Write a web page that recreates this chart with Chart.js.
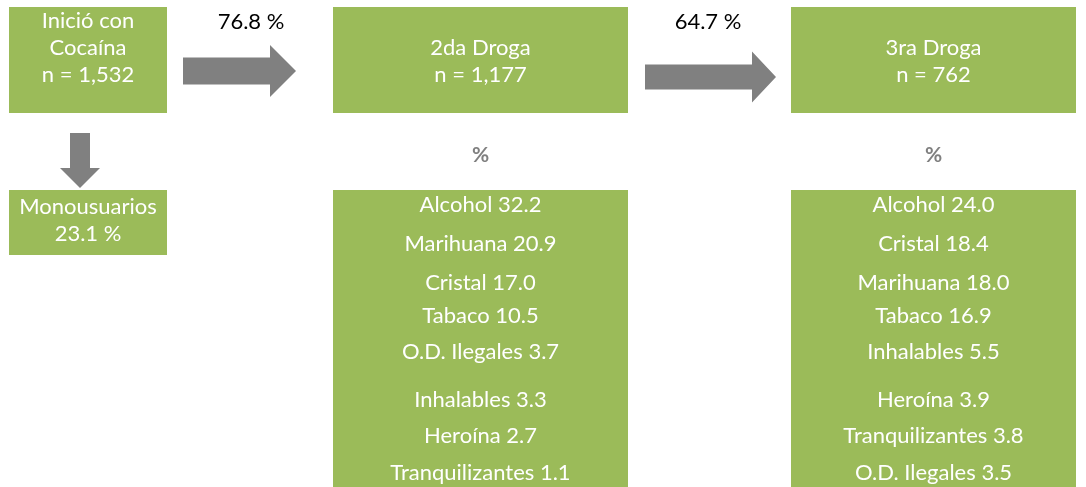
<!DOCTYPE html>
<html>
<head>
<meta charset="utf-8">
<script src="https://cdn.jsdelivr.net/npm/chart.js@4"></script>
<style>
  html, body { margin: 0; padding: 0; background: #fff; }
  #wrap { width: 1086px; height: 487px; position: relative; }
</style>
</head>
<body>
<div id="wrap"><canvas id="flow"></canvas></div>
<script>
// stages of the drug sequence
var stages = ["Inició con\nCocaína", "2da Droga", "3ra Droga"];
var stageN = [1532, 1177, 762];
var transitionPct = [76.8, 64.7];
var monoLabel = "Monousuarios";
var monoPct = 23.1;

// second drug used (%)
var drugs2 = ["Alcohol", "Marihuana", "Cristal", "Tabaco", "O.D. Ilegales", "Inhalables", "Heroína", "Tranquilizantes"];
var values2 = [32.2, 20.9, 17.0, 10.5, 3.7, 3.3, 2.7, 1.1];

// third drug used (%)
var drugs3 = ["Alcohol", "Cristal", "Marihuana", "Tabaco", "Inhalables", "Heroína", "Tranquilizantes", "O.D. Ilegales"];
var values3 = [24.0, 18.4, 18.0, 16.9, 5.5, 3.9, 3.8, 3.5];

var green = "#9bbb59";
var grey = "#808080";
var font = "Lato, 'Open Sans', sans-serif";

// layout in scale units (x 0..1086, y 0..487 top-down)
var cols = [{x0: 9, x1: 167}, {x0: 333, x1: 628}, {x0: 791, x1: 1076}];
var topBox = {y0: 7, y1: 113};
var listBox = {y0: 190, y1: 487};
var listRows = [205, 244, 283, 316, 352, 400, 436, 473];

function fmtN(n) {
  return "n = " + n.toLocaleString("en-US");
}

var flowPlugin = {
  id: "flow",
  afterDraw: function(chart) {
    var ctx = chart.ctx;
    var sx = chart.scales.x, sy = chart.scales.y;
    var X = function(v){ return sx.getPixelForValue(v); };
    var Y = function(v){ return sy.getPixelForValue(v); };

    function rect(x0, y0, x1, y1) {
      ctx.fillStyle = green;
      ctx.fillRect(X(x0), Y(y0), X(x1) - X(x0), Y(y1) - Y(y0));
    }
    function text(t, x, y, color, size, weight) {
      ctx.fillStyle = color;
      ctx.font = (weight || "normal") + " " + size + "px " + font;
      ctx.textAlign = "center";
      ctx.textBaseline = "middle";
      ctx.fillText(t, X(x), Y(y));
    }
    function arrowRight(x0, x1, yc, shaftH, headH, headW) {
      ctx.fillStyle = grey;
      ctx.beginPath();
      ctx.moveTo(X(x0), Y(yc - shaftH / 2));
      ctx.lineTo(X(x1 - headW), Y(yc - shaftH / 2));
      ctx.lineTo(X(x1 - headW), Y(yc - headH / 2));
      ctx.lineTo(X(x1), Y(yc));
      ctx.lineTo(X(x1 - headW), Y(yc + headH / 2));
      ctx.lineTo(X(x1 - headW), Y(yc + shaftH / 2));
      ctx.lineTo(X(x0), Y(yc + shaftH / 2));
      ctx.closePath();
      ctx.fill();
    }
    function arrowDown(xc, y0, y1, shaftW, headW, headH) {
      ctx.fillStyle = grey;
      ctx.beginPath();
      ctx.moveTo(X(xc - shaftW / 2), Y(y0));
      ctx.lineTo(X(xc + shaftW / 2), Y(y0));
      ctx.lineTo(X(xc + shaftW / 2), Y(y1 - headH));
      ctx.lineTo(X(xc + headW / 2), Y(y1 - headH));
      ctx.lineTo(X(xc), Y(y1));
      ctx.lineTo(X(xc - headW / 2), Y(y1 - headH));
      ctx.lineTo(X(xc - shaftW / 2), Y(y1 - headH));
      ctx.closePath();
      ctx.fill();
    }

    ctx.save();
    // top boxes
    stages.forEach(function(s, i) {
      var c = cols[i];
      var cx = (c.x0 + c.x1) / 2;
      rect(c.x0, topBox.y0, c.x1, topBox.y1);
      var lines = s.split("\n").concat([fmtN(stageN[i])]);
      var y = lines.length === 3 ? 21 : 48;
      lines.forEach(function(l, k) {
        text(l, cx, y + k * 27, "#fff", 22);
      });
    });

    // arrows with transition percentages
    arrowRight(183, 296, 71, 27, 52, 26);
    text(transitionPct[0].toFixed(1) + " %", 251, 22, "#000", 22);
    arrowRight(645, 776, 77, 25, 51, 24);
    text(transitionPct[1].toFixed(1) + " %", 708, 22, "#000", 22);

    // monousers
    arrowDown(80, 133, 188, 20, 40, 20);
    rect(cols[0].x0, 190, cols[0].x1, 255);
    text(monoLabel, 88, 207, "#fff", 22);
    text(monoPct.toFixed(1) + " %", 88, 234, "#fff", 22);

    // drug lists
    [[drugs2, values2], [drugs3, values3]].forEach(function(d, j) {
      var c = cols[j + 1];
      var cx = (c.x0 + c.x1) / 2;
      text("%", cx, 155, grey, 21, "bold");
      rect(c.x0, listBox.y0, c.x1, listBox.y1);
      d[0].forEach(function(name, k) {
        text(name + " " + d[1][k].toFixed(1), cx, listRows[k], "#fff", 22);
      });
    });
    ctx.restore();
  }
};

var chart = new Chart(document.getElementById("flow"), {
  type: "scatter",
  data: { datasets: [{ data: [] }] },
  options: {
    responsive: true,
    maintainAspectRatio: false,
    animation: false,
    layout: { padding: 0 },
    plugins: { legend: { display: false }, tooltip: { enabled: false } },
    scales: {
      x: { type: "linear", min: 0, max: 1086, display: false },
      y: { type: "linear", min: 0, max: 487, reverse: true, display: false }
    }
  },
  plugins: [flowPlugin]
});
</script>
</body>
</html>
